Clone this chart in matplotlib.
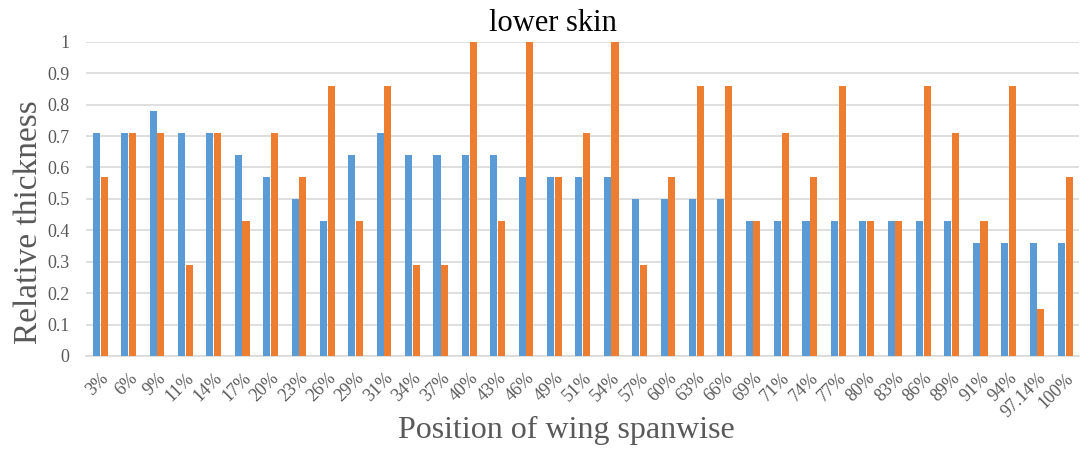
import numpy as np
import matplotlib
matplotlib.use("Agg")
import matplotlib.pyplot as plt

plt.rcParams['font.family'] = ['Liberation Serif', 'DejaVu Serif']

positions = ["3%", "6%", "9%", "11%", "14%", "17%", "20%", "23%", "26%", "29%",
             "31%", "34%", "37%", "40%", "43%", "46%", "49%", "51%", "54%", "57%",
             "60%", "63%", "66%", "69%", "71%", "74%", "77%", "80%", "83%", "86%",
             "89%", "91%", "94%", "97.14%", "100%"]
blue_vals = [0.71, 0.71, 0.78, 0.71, 0.71, 0.64, 0.57, 0.5, 0.43, 0.64,
             0.71, 0.64, 0.64, 0.64, 0.64, 0.57, 0.57, 0.57, 0.57, 0.5,
             0.5, 0.5, 0.5, 0.43, 0.43, 0.43, 0.43, 0.43, 0.43, 0.43,
             0.43, 0.36, 0.36, 0.36, 0.36]
orange_vals = [0.57, 0.71, 0.71, 0.29, 0.71, 0.43, 0.71, 0.57, 0.86, 0.43,
               0.86, 0.29, 0.29, 1.0, 0.43, 1.0, 0.57, 0.71, 1.0, 0.29,
               0.57, 0.86, 0.86, 0.43, 0.71, 0.57, 0.86, 0.43, 0.43, 0.86,
               0.71, 0.43, 0.86, 0.15, 0.57]

blue = "#5b9bd5"
orange = "#ed7d31"
txt = "#595959"

fig = plt.figure(figsize=(10.81, 4.5), dpi=100)
ax = fig.add_axes([0.0796, 0.209, 0.919, 0.698])

x = np.arange(len(positions))
w = 0.25
ax.bar(x - w / 2 - 0.01, blue_vals, w, color=blue, zorder=3)
ax.bar(x + w / 2 + 0.01, orange_vals, w, color=orange, zorder=3)

ax.set_xlim(-0.5, len(positions) - 0.5)
ax.set_ylim(0, 1)
ax.set_yticks(np.arange(0, 1.01, 0.1))
ax.set_yticklabels(["0"] + [f"{v:.1f}" for v in np.arange(0.1, 0.95, 0.1)] + ["1"])
ax.set_xticks(x)
ax.set_xticklabels(positions, rotation=45, ha="right", rotation_mode="anchor")
ax.tick_params(axis="both", length=0, colors=txt, labelsize=13)
ax.tick_params(axis="y", pad=12)
ax.tick_params(axis="x", pad=10)
ax.grid(axis="y", color="#d9d9d9", lw=1.2, zorder=0)
for s in ["top", "right", "left"]:
    ax.spines[s].set_visible(False)
ax.spines["bottom"].set_color("#d9d9d9")
ax.spines["bottom"].set_linewidth(1.2)

fig.text(0.027, 0.507, "Relative thickness", fontsize=24, color=txt,
         rotation=90, ha="center", va="center")
fig.text(0.524, 0.044, "Position of wing spanwise", fontsize=23, color=txt,
         ha="center", va="center")
ax.set_title("lower skin", fontsize=22, color="black", pad=8, x=0.47)

fig.savefig("out.png", dpi=100)
